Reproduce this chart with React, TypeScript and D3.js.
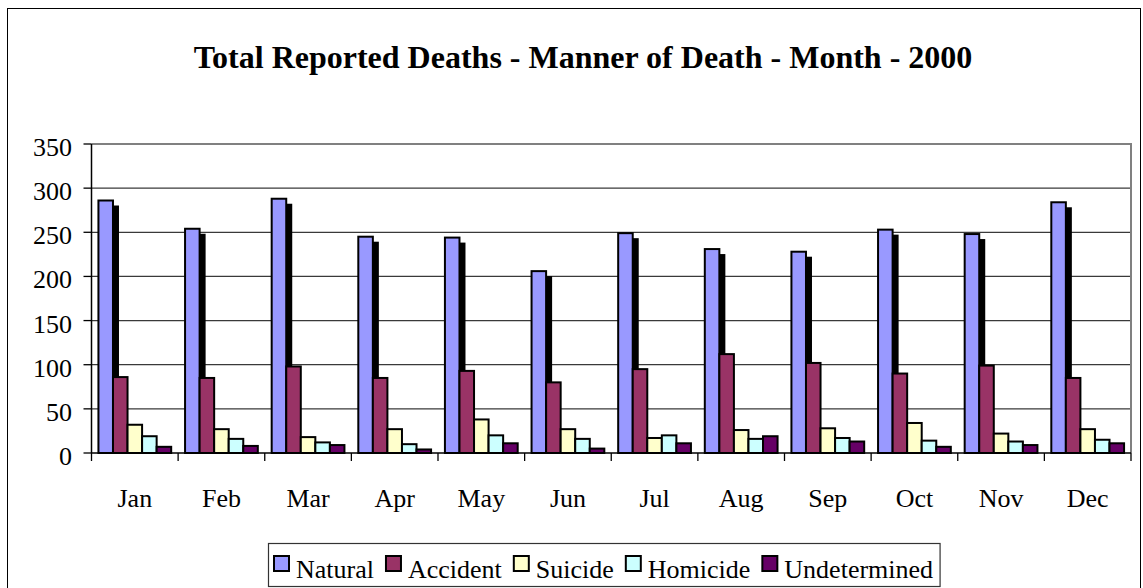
import React, { useRef, useEffect } from 'react';
import * as d3 from 'd3';

const months = ['Jan', 'Feb', 'Mar', 'Apr', 'May', 'Jun', 'Jul', 'Aug', 'Sep', 'Oct', 'Nov', 'Dec'];
const seriesNames = ['Natural', 'Accident', 'Suicide', 'Homicide', 'Undetermined'];
const seriesColors = ['#9999FF', '#993366', '#FFFFCC', '#CCFFFF', '#660066'];

const natural = [286, 254, 288, 245, 244, 206, 249, 231, 228, 253, 248, 284];
const accident = [86, 85, 98, 85, 93, 80, 95, 112, 102, 90, 99, 85];
const suicide = [32, 27, 18, 27, 38, 27, 17, 26, 28, 34, 22, 27];
const homicide = [19, 16, 12, 10, 20, 16, 20, 16, 17, 14, 13, 15];
const undetermined = [7, 8, 9, 4, 11, 5, 11, 19, 13, 7, 9, 11];

const yTicks = [0, 50, 100, 150, 200, 250, 300, 350];
const title = 'Total Reported Deaths - Manner of Death - Month - 2000';

const W = 1143;
const H = 588;
const FONT = "'Liberation Serif', 'Times New Roman', serif";

const App = () => {
  const svgRef = useRef<SVGSVGElement>(null);

  useEffect(() => {
    const svg = d3.select(svgRef.current);
    svg.selectAll('*').remove();

    const values = [natural, accident, suicide, homicide, undetermined];
    const rows = months.map((m, i) => ({ month: m, vals: values.map(v => v[i]) }));

    const left = 91.5, right = 1131, top = 144, bottom = 453;

    // outer chart border
    svg.append('rect')
      .attr('x', 7.5).attr('y', 8.5)
      .attr('width', 1133).attr('height', 600)
      .attr('fill', '#fff').attr('stroke', '#000').attr('stroke-width', 1);

    svg.append('text')
      .attr('x', 583).attr('y', 68)
      .attr('text-anchor', 'middle')
      .attr('font-family', FONT).attr('font-weight', 'bold').attr('font-size', 32)
      .text(title);

    const y = d3.scaleLinear().domain([0, 350]).range([bottom, top]);
    const x0 = d3.scaleBand().domain(months).range([left, right]);
    const bw = x0.bandwidth();
    const x1 = d3.scaleBand().domain(seriesNames).range([bw * 0.08, bw * 0.92]);

    // gridlines
    svg.append('g').selectAll('line')
      .data(yTicks.filter(t => t > 0 && t < 350))
      .join('line')
      .attr('x1', left).attr('x2', right)
      .attr('y1', d => y(d)).attr('y2', d => y(d))
      .attr('stroke', '#3a3a3a').attr('stroke-width', 1.3);

    // plot area border top/right
    svg.append('path')
      .attr('d', `M${left},${top}H${right}V${bottom}`)
      .attr('fill', 'none').attr('stroke', '#808080').attr('stroke-width', 2);

    const groups = svg.append('g').selectAll('g')
      .data(rows)
      .join('g')
      .attr('transform', d => `translate(${x0(d.month)},0)`);

    // shadow for the Natural bars
    groups.append('rect')
      .attr('x', x1('Natural')! + 6)
      .attr('y', d => y(d.vals[0]) + 5)
      .attr('width', x1.bandwidth())
      .attr('height', d => bottom - y(d.vals[0]) - 5)
      .attr('fill', '#000');

    groups.selectAll('rect.bar')
      .data(d => d.vals.map((v, i) => ({ key: seriesNames[i], v, i })))
      .join('rect')
      .attr('class', 'bar')
      .attr('x', d => x1(d.key)!)
      .attr('y', d => y(d.v))
      .attr('width', x1.bandwidth())
      .attr('height', d => bottom - y(d.v))
      .attr('fill', d => seriesColors[d.i])
      .attr('stroke', '#000').attr('stroke-width', 2);

    // y axis
    const yAxis = svg.append('g');
    yAxis.append('line')
      .attr('x1', left).attr('x2', left).attr('y1', top).attr('y2', bottom)
      .attr('stroke', '#000').attr('stroke-width', 1.5);
    yAxis.selectAll('line.tick')
      .data(yTicks)
      .join('line')
      .attr('class', 'tick')
      .attr('x1', left - 8).attr('x2', left)
      .attr('y1', d => y(d)).attr('y2', d => y(d))
      .attr('stroke', '#000').attr('stroke-width', 1.3);
    yAxis.selectAll('text')
      .data(yTicks)
      .join('text')
      .attr('x', 72).attr('y', d => y(d) + 12)
      .attr('text-anchor', 'end')
      .attr('font-family', FONT).attr('font-size', 26)
      .text(d => String(d));

    // x axis
    const xAxis = svg.append('g');
    xAxis.append('line')
      .attr('x1', left).attr('x2', right).attr('y1', bottom).attr('y2', bottom)
      .attr('stroke', '#000').attr('stroke-width', 1.5);
    xAxis.selectAll('line.tick')
      .data([...months.map(m => x0(m)!), right])
      .join('line')
      .attr('class', 'tick')
      .attr('x1', d => d).attr('x2', d => d)
      .attr('y1', bottom).attr('y2', bottom + 8)
      .attr('stroke', '#000').attr('stroke-width', 1.3);
    xAxis.selectAll('text')
      .data(months)
      .join('text')
      .attr('x', d => x0(d)! + bw / 2).attr('y', 507)
      .attr('text-anchor', 'middle')
      .attr('font-family', FONT).attr('font-size', 26)
      .text(d => d);

    // legend
    const legend = svg.append('g');
    const box = legend.append('rect')
      .attr('y', 543.5).attr('height', 43)
      .attr('fill', '#fff').attr('stroke', '#333').attr('stroke-width', 1.2);
    let cx = 274;
    seriesNames.forEach((name, i) => {
      legend.append('rect')
        .attr('x', cx).attr('y', 556)
        .attr('width', 15).attr('height', 15)
        .attr('fill', seriesColors[i])
        .attr('stroke', '#000').attr('stroke-width', 2);
      const t = legend.append('text')
        .attr('x', cx + 22).attr('y', 578)
        .attr('font-family', FONT).attr('font-size', 26)
        .text(name);
      const tw = (t.node() as SVGTextElement).getComputedTextLength();
      cx = cx + 22 + tw + 12;
    });
    box.attr('x', 268.5).attr('width', cx - 12 + 7 - 268.5);
  }, []);

  return (
    <svg ref={svgRef} width={W} height={H} fontFamily={FONT}
      style={{ position: 'absolute', left: 0, top: 0, background: '#fff' }} />
  );
};

export default App;
